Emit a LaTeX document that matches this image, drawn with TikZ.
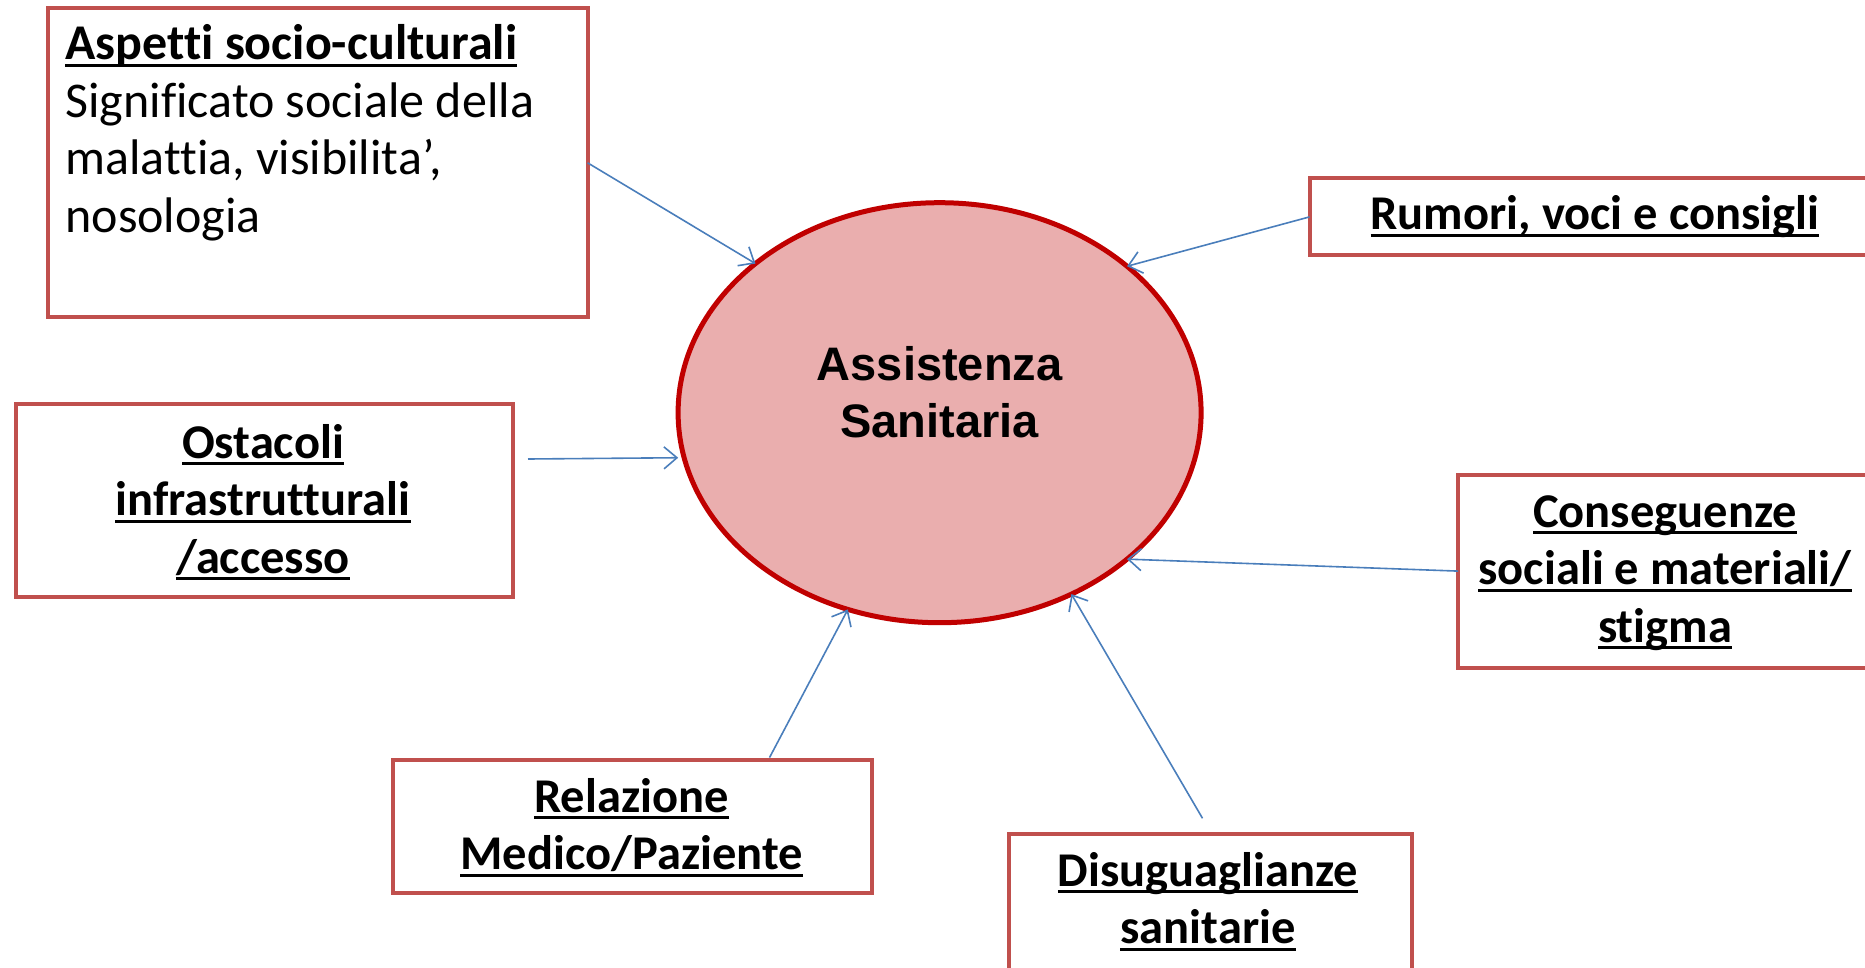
\documentclass[tikz,border=0pt]{standalone}
\usepackage{fontspec}
\setmainfont{Carlito}[Ligatures=CommonOff]
\newfontfamily\arialf{Liberation Sans}
\usetikzlibrary{arrows.meta,shapes.geometric}
\definecolor{boxred}{RGB}{192,80,77}
\definecolor{ellred}{RGB}{192,0,0}
\definecolor{ellfill}{RGB}{234,174,174}
\definecolor{arrblue}{RGB}{74,126,187}
\newcommand\ulx[1]{\setbox0\hbox{#1}\rlap{\rule[-7bp]{\wd0}{2.6bp}}\box0}
\newcommand\clines[1]{\vtop{\baselineskip=57.5bp\halign{\hfil##\hfil\cr#1\crcr}}}
\newcommand\llines[1]{\vtop{\baselineskip=57.5bp\halign{##\hfil\cr#1\crcr}}}
\begin{document}
\begin{tikzpicture}[x=1bp,y=-1bp,
  box/.style={draw=boxred,line width=4bp,rectangle,inner sep=0pt,outer sep=0pt,anchor=north west,fill=white},
  txt/.style={inner sep=0pt,outer sep=0pt,font=\fontsize{48.5bp}{57.5bp}\selectfont},
  btxt/.style={txt,anchor=base,font=\bfseries\fontsize{48.5bp}{57.5bp}\selectfont},
  arr/.style={draw=arrblue,line width=1.6bp,-{Straight Barb[length=13bp,width=22bp,line width=1.6bp]}}]
\useasboundingbox (0,0) rectangle (1865,967);
% central ellipse
\node[ellipse,draw=ellred,fill=ellfill,line width=5bp,inner sep=0pt,outer sep=0pt,
      minimum width=523bp,minimum height=420bp] (ell) at (939.6,412.7) {};
\node[inner sep=0pt,anchor=base,font=\arialf\bfseries\fontsize{47bp}{57bp}\selectfont] (elltxt) at (939.6,380.6)
  {\vtop{\baselineskip=57bp\halign{\hfil#\hfil\cr Assistenza\cr Sanitaria\crcr}}};
% boxes
\node[box,minimum width=540bp,minimum height=309bp] (b1) at (47.6,8.3) {};
\node[box,minimum width=571bp,minimum height=77bp] (b2) at (1309.5,178.4) {};
\node[box,minimum width=497bp,minimum height=193bp] (b3) at (15.5,404.4) {};
\node[box,minimum width=414bp,minimum height=193bp] (b4) at (1458.2,474.6) {};
\node[box,minimum width=479bp,minimum height=133bp] (b5) at (392.5,760) {};
\node[box,minimum width=403bp,minimum height=170bp] (b6) at (1008.6,833.8) {};
% texts
\node[txt,anchor=base west,font=\fontsize{50bp}{57.5bp}\selectfont] (t1) at (65.4,59.5)
  {\llines{\textbf{\ulx{Aspetti socio-culturali}}\cr Significato sociale della\cr malattia, visibilita’,\cr nosologia}};
\node[btxt] (t2) at (1595,229.5) {\ulx{Rumori, voci e consigli}};
\node[btxt] (t3) at (263,458)
  {\clines{\ulx{Ostacoli}\cr\ulx{infrastrutturali}\cr\ulx{/accesso}}};
\node[btxt] (t4) at (1665,527)
  {\clines{\ulx{Conseguenze}\cr\ulx{sociali e materiali/}\cr\ulx{stigma}}};
\node[btxt] (t5) at (631.6,812)
  {\clines{\ulx{Relazione}\cr\ulx{Medico/Paziente}}};
\node[btxt] (t6) at (1208,886)
  {\clines{\ulx{Disuguaglianze}\cr\ulx{sanitarie}}};
% free ends
\coordinate (c3) at (528,459);
\coordinate (c5) at (769.5,757.6);
\coordinate (c6) at (1202.5,818.3);
% arrows
\draw[arr] (b1.east) -- (ell.141.5);
\draw[arr] (b2.west) -- (ell.38.5);
\draw[arr] (c3) -- ([xshift=-6bp]ell.190.6);
\draw[arr] (b4.west) -- (ell.-38.3);
\draw[arr] (c5) -- (ell.-115.9);
\draw[arr] (c6) -- (ell.-54.8);
\end{tikzpicture}
\end{document}
